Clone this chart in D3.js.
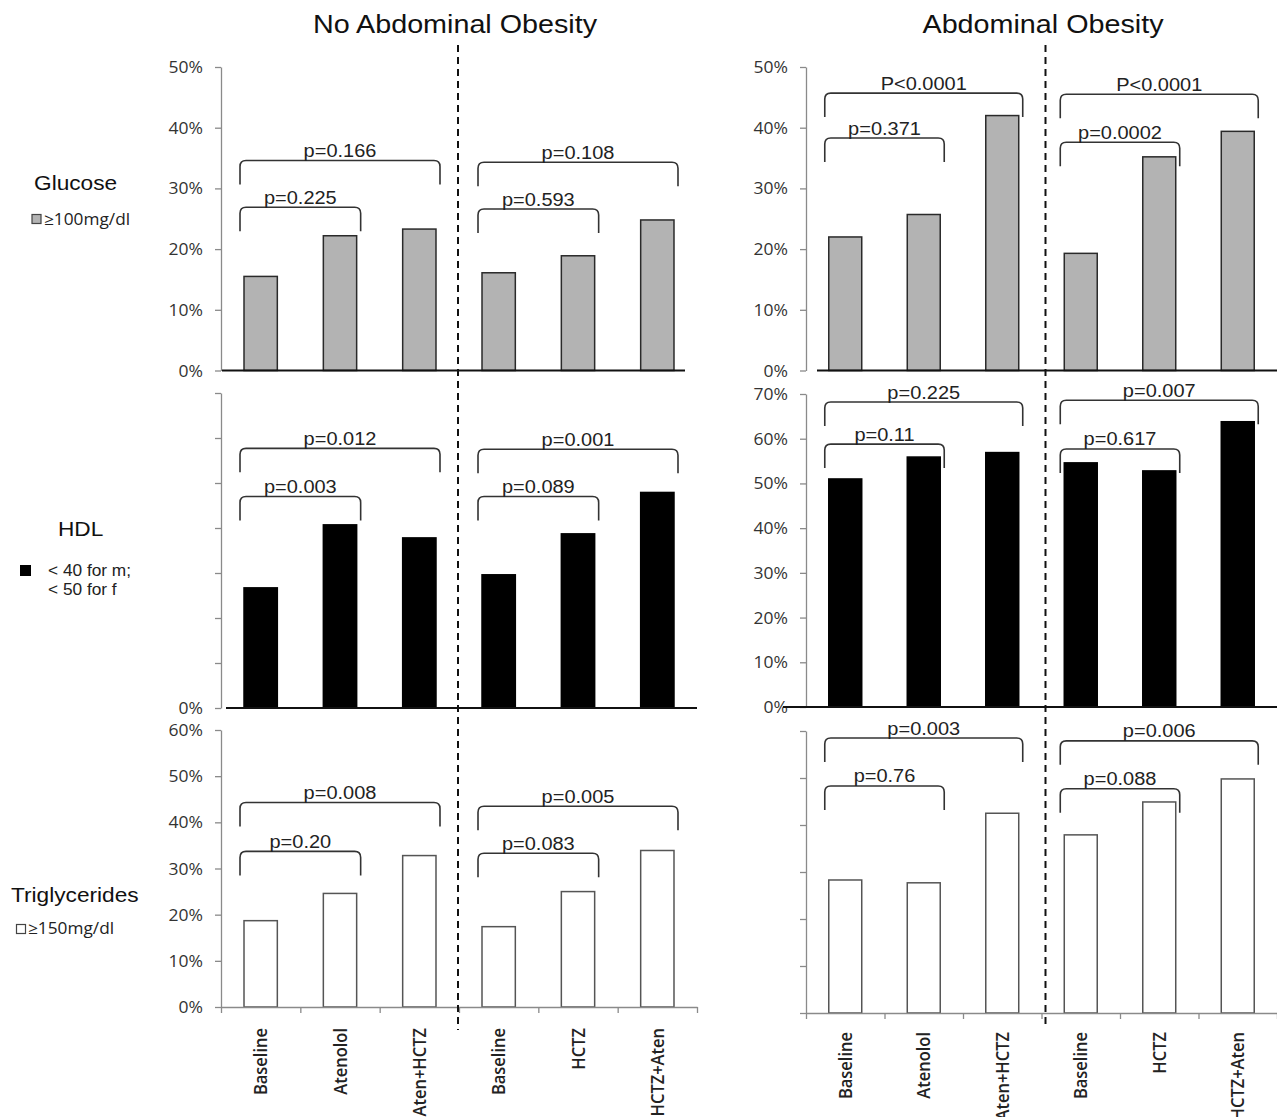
<!DOCTYPE html>
<html><head><meta charset="utf-8">
<script src="https://cdn.jsdelivr.net/npm/d3@7"></script>
<style>body{margin:0;background:#fff}</style>
</head><body>
<svg id="c" width="1277" height="1117" xmlns="http://www.w3.org/2000/svg"></svg>
<script>
// ---------------- data ----------------
const categories = ["Baseline", "Atenolol", "Aten+HCTZ", "Baseline", "HCTZ", "HCTZ+Aten"];
const groupTitles = ["No Abdominal Obesity", "Abdominal Obesity"];

const glucoseNoAO = [15.5, 22.2, 23.3, 16.1, 18.9, 24.8];
const glucoseAO   = [22.0, 25.7, 42.0, 19.3, 35.2, 39.4];
const hdlNoAO     = [26.7, 40.7, 37.8, 29.6, 38.7, 47.9];
const hdlAO       = [51.0, 55.9, 56.9, 54.6, 52.8, 63.8];
const tgNoAO      = [18.7, 24.6, 32.8, 17.4, 25.0, 33.9];
const tgAO        = [28.3, 27.7, 42.5, 37.9, 44.9, 49.8];

const glucoseTicks = [0, 10, 20, 30, 40, 50];
const hdlTicks     = [0, 10, 20, 30, 40, 50, 60, 70];
const tgTicks      = [0, 10, 20, 30, 40, 50, 60];

// brackets: [fromIndex, toIndex, level (%), label]
const glucosePNoAO = [[0, 2, 34.6, "p=0.166"], [0, 1, 26.9, "p=0.225"], [3, 5, 34.3, "p=0.108"], [3, 4, 26.6, "p=0.593"]];
const glucosePAO   = [[0, 2, 45.7, "P<0.0001"], [0, 1, 38.3, "p=0.371"], [3, 5, 45.5, "P<0.0001"], [3, 4, 37.6, "p=0.0002"]];
const hdlPNoAO     = [[0, 2, 57.7, "p=0.012"], [0, 1, 47.0, "p=0.003"], [3, 5, 57.5, "p=0.001"], [3, 4, 47.0, "p=0.089"]];
const hdlPAO       = [[0, 2, 68.2, "p=0.225"], [0, 1, 58.8, "p=0.11"], [3, 5, 68.6, "p=0.007"], [3, 4, 57.7, "p=0.617"]];
const tgPNoAO      = [[0, 2, 44.3, "p=0.008"], [0, 1, 33.7, "p=0.20"], [3, 5, 43.5, "p=0.005"], [3, 4, 33.3, "p=0.083"]];
const tgPAO        = [[0, 2, 58.5, "p=0.003"], [0, 1, 48.3, "p=0.76"], [3, 5, 57.9, "p=0.006"], [3, 4, 47.7, "p=0.088"]];

const rowLabels = ["Glucose", "HDL", "Triglycerides"];
const legendLabels = [["\u2265100mg/dl"], ["< 40 for m;", "< 50 for f"], ["\u2265150mg/dl"]];

// ---------------- layout / style ----------------
const SX = 1.08; // horizontal stretch of the source text
const svg = d3.select("#c");
svg.append("rect").attr("width", 1277).attr("height", 1117).attr("fill", "#fff");

const xRanges = [[221, 697], [806, 1277]];
const xScales = xRanges.map(r => d3.scaleBand().domain(d3.range(categories.length)).range(r).paddingInner(0.58).paddingOuter(0.29));

const styles = {
  glu: {fill: "#b3b3b3", stroke: "#2a2a2a"},
  hdl: {fill: "#000", stroke: "#000"},
  tg:  {fill: "#fff", stroke: "#555"}
};

const panels = [
  {side: 0, kind: "glu", values: glucoseNoAO, br: glucosePNoAO, ticks: glucoseTicks, yr: [370.5, 67], lab: "all", base: [222, 685]},
  {side: 1, kind: "glu", values: glucoseAO, br: glucosePAO, ticks: glucoseTicks, yr: [370.5, 67], lab: "all", base: [817, 1277]},
  {side: 0, kind: "hdl", values: hdlNoAO, br: hdlPNoAO, ticks: hdlTicks, yr: [708, 393], lab: "zero", base: [226, 697]},
  {side: 1, kind: "hdl", values: hdlAO, br: hdlPAO, ticks: hdlTicks, yr: [707, 394], lab: "all", base: [783, 1277]},
  {side: 0, kind: "tg", values: tgNoAO, br: tgPNoAO, ticks: tgTicks, yr: [1007, 730], lab: "all"},
  {side: 1, kind: "tg", values: tgAO, br: tgPAO, ticks: tgTicks, yr: [1013, 731], lab: "none"}
];

function stretchText(sel, x, y, anchor) {
  return sel.attr("x", 0).attr("y", 0).attr("text-anchor", anchor || "start")
    .attr("transform", `translate(${x},${y}) scale(${SX},1)`);
}

panels.forEach(p => {
  const x = xScales[p.side];
  const xr = xRanges[p.side];
  const max = d3.max(p.ticks);
  const y = d3.scaleLinear().domain([0, max]).range(p.yr);
  const g = svg.append("g");
  const st = styles[p.kind];

  // y axis
  const ax = g.append("g").attr("transform", `translate(${xr[0]},0)`)
    .call(d3.axisLeft(y).tickValues(p.ticks).tickSize(6).tickSizeOuter(0).tickPadding(12)
      .tickFormat(d => p.lab === "all" ? d + "%" : (p.lab === "zero" && d === 0 ? "0%" : "")));
  ax.select(".domain").attr("stroke", "#8a8a8a").attr("stroke-width", 1.3);
  ax.selectAll(".tick line").attr("stroke", "#8a8a8a").attr("stroke-width", 1.3);
  ax.selectAll(".tick text").each(function () {
    const t = d3.select(this);
    const tx = +t.attr("x");
    t.attr("x", 0).attr("dy", "0.34em").attr("transform", `translate(${tx},0) scale(${SX},1)`);
  }).attr("font-family", "'Open Sans', sans-serif").attr("font-size", 16.2).attr("fill", "#333");

  // bars
  g.selectAll("rect.bar").data(p.values).join("rect").attr("class", "bar")
    .attr("x", (d, i) => x(i)).attr("width", x.bandwidth())
    .attr("y", d => y(d)).attr("height", d => y(0) - y(d))
    .attr("fill", st.fill).attr("stroke", st.stroke).attr("stroke-width", 1.5);

  // x baseline
  if (p.kind === "tg") {
    const xl = d3.scaleLinear().domain([0, categories.length]).range(xr);
    const xa = g.append("g").attr("transform", `translate(0,${y(0)})`)
      .call(d3.axisBottom(xl).ticks(categories.length).tickFormat("").tickSize(6).tickSizeOuter(0));
    xa.select(".domain").attr("stroke", "#8a8a8a").attr("stroke-width", 1.5);
    xa.selectAll(".tick line").attr("stroke", "#8a8a8a").attr("stroke-width", 1.3);
  } else {
    g.append("line").attr("x1", p.base[0]).attr("x2", p.base[1]).attr("y1", y(0)).attr("y2", y(0))
      .attr("stroke", "#111").attr("stroke-width", 2.2);
  }

  // significance brackets
  const leg = 24, r = 6;
  p.br.forEach(([a, b, lvl, label]) => {
    const x1 = x(a) - 4, x2 = x(b) + x.bandwidth() + 4, yy = y(lvl);
    g.append("path")
      .attr("d", `M${x1},${yy + leg} L${x1},${yy + r} Q${x1},${yy} ${x1 + r},${yy} L${x2 - r},${yy} Q${x2},${yy} ${x2},${yy + r} L${x2},${yy + leg}`)
      .attr("fill", "none").attr("stroke", "#333").attr("stroke-width", 1.6);
    stretchText(g.append("text"), (x1 + x2) / 2, yy - 3.5, "middle")
      .attr("font-family", "'Liberation Sans', Arial, sans-serif").attr("font-size", 18.5).attr("fill", "#222")
      .text(label);
  });
});

// category labels (rotated)
[0, 1].forEach(side => {
  const x = xScales[side];
  const y0 = side === 0 ? 1028 : 1032;
  svg.append("g").selectAll("text").data(categories).join("text")
    .attr("text-anchor", "end").attr("dy", "0.36em")
    .attr("transform", (d, i) => `translate(${x(i) + x.bandwidth() / 2},${y0}) scale(1.12,1) rotate(-90)`)
    .attr("font-family", "'Open Sans', sans-serif").attr("font-size", 16.5).attr("font-weight", 600).attr("fill", "#222")
    .text(d => d);
});

// dashed separators
const dashX = [xScales[0](3) - xScales[0].step() * xScales[0].paddingOuter() - 1, xScales[1](3) - xScales[1].step() * xScales[1].paddingOuter() + 4];
const dashY = [[45, 1030], [45, 1025]];
dashX.forEach((dx, i) => {
  svg.append("line").attr("x1", dx).attr("x2", dx).attr("y1", dashY[i][0]).attr("y2", dashY[i][1])
    .attr("stroke", "#111").attr("stroke-width", 2).attr("stroke-dasharray", "7,5");
});

// group titles
const titleX = [455, 1043];
groupTitles.forEach((t, i) => {
  stretchText(svg.append("text"), titleX[i], 33, "middle")
    .attr("font-family", "'Liberation Sans', Arial, sans-serif").attr("font-size", 26.6).attr("fill", "#111").text(t);
});

// row labels and legends
const rowPos = [{x: 34, y: 190}, {x: 58, y: 536}, {x: 11, y: 902}];
rowLabels.forEach((t, i) => {
  stretchText(svg.append("text"), rowPos[i].x, rowPos[i].y)
    .attr("font-family", "'Liberation Sans', Arial, sans-serif").attr("font-size", 21).attr("fill", "#111").text(t);
});
// glucose legend
svg.append("rect").attr("x", 32).attr("y", 214.5).attr("width", 9).attr("height", 9)
  .attr("fill", "#b3b3b3").attr("stroke", "#444").attr("stroke-width", 1.2);
stretchText(svg.append("text"), 44, 225).attr("font-family", "'Open Sans', sans-serif").attr("font-size", 16).attr("fill", "#222").text(legendLabels[0][0]);
// hdl legend
svg.append("rect").attr("x", 20).attr("y", 565).attr("width", 11).attr("height", 11).attr("fill", "#000");
legendLabels[1].forEach((t, i) => {
  stretchText(svg.append("text"), 48, 576 + i * 19).attr("font-family", "'Liberation Sans', Arial, sans-serif").attr("font-size", 16).attr("fill", "#222").text(t);
});
// tg legend
svg.append("rect").attr("x", 16.5).attr("y", 924.5).attr("width", 9).attr("height", 9)
  .attr("fill", "#fff").attr("stroke", "#444").attr("stroke-width", 1.2);
stretchText(svg.append("text"), 28, 934).attr("font-family", "'Open Sans', sans-serif").attr("font-size", 16).attr("fill", "#222").text(legendLabels[2][0]);
</script>
</body></html>
